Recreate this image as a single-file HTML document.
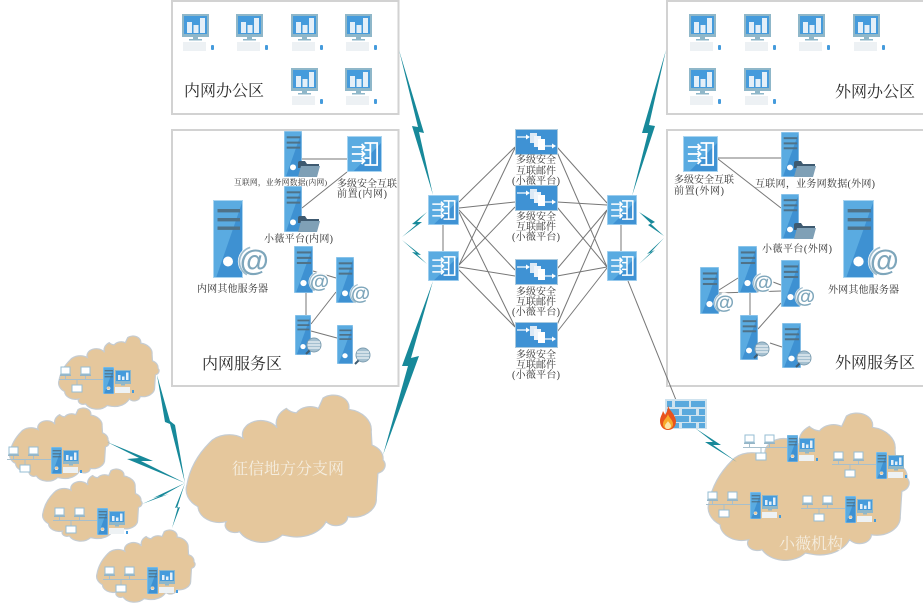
<!DOCTYPE html>
<html><head><meta charset="utf-8"><style>
html,body{margin:0;padding:0;background:#fff;width:923px;height:604px;overflow:hidden}
svg{display:block}
text{font-family:"Liberation Serif","Noto Serif CJK SC",serif;fill:#333}
.t16{font-size:16px;fill:#2a2a2a}
.t10{font-size:10px}
.t8{font-size:7.7px}
.w{font-size:16px;fill:#f5eee0}
.l line,.l polyline{stroke:#777;stroke-width:1;fill:none}
.z polygon{fill:#17899a}
</style></head><body>
<svg width="923" height="604" viewBox="0 0 923 604" xmlns="http://www.w3.org/2000/svg">
<defs>
<symbol id="cloud" viewBox="0 0 100 100" preserveAspectRatio="none" overflow="visible">
<path vector-effect="non-scaling-stroke" fill="#e5c79c" stroke="#c5ccd2" stroke-width="1.200" d="M0,60 A60 60 0 0 1 11.500,32 A12 12 0 0 1 28.600,29 A9.400 9.400 0 0 1 45.900,22 A12 12 0 0 1 50.700,9 A8 8 0 0 0 55.800,12 A8 8 0 0 1 67,9 L69.400,2 A8 8 0 0 1 82.500,9.600 A14 14 0 0 1 94,24.600 L94.400,33.600 A10 10 0 0 1 100,43.600 A6 6 0 0 1 97.400,52.600 L96.600,69.400 A12 12 0 0 1 82,81.700 A6 6 0 0 1 71,85 A16 16 0 0 1 53,95 L48.600,94 A13 13 0 0 1 26.800,91.700 A5 5 0 0 1 20,85 A11 11 0 0 1 5.600,75 A14 14 0 0 1 0,60Z"/>
</symbol>
<symbol id="srv" viewBox="0 0 30 78" preserveAspectRatio="none">
<rect width="30" height="78" fill="#3e91d2"/>
<polygon points="0,0 30,0 3,78 0,78" fill="#5aabe1"/>
<rect x=".5" y=".5" width="29" height="77" fill="none" stroke="#a9d4f0" stroke-width="1"/>
<rect x="4.500" y="9" width="22.500" height="3.400" fill="#4f7288"/>
<rect x="4.500" y="18" width="22.500" height="3.400" fill="#4f7288"/>
<rect x="4.500" y="26.500" width="22.500" height="3.400" fill="#4f7288"/>
<ellipse cx="15" cy="61.500" rx="5" ry="5" fill="#fff"/>
</symbol>
<symbol id="at" viewBox="0 0 40 40" overflow="visible">
<circle cx="20" cy="20" r="19" fill="#fff" opacity=".95"/>
<path d="M12,36 A18 18 0 0 1 16,3" fill="none" stroke="#9dbccd" stroke-width="2"/>
<text x="21" y="31" text-anchor="middle" style="font-family:'Liberation Sans',sans-serif;font-size:36px;font-weight:bold;fill:#7ea6bb">@</text>
</symbol>
<g id="globe">
<circle cx="0" cy="0" r="7" fill="#a5c0d0" stroke="#7f9fb2" stroke-width="1"/>
<path d="M-6,-3 H6 M-6.500,0 H6.500 M-6,3 H6" stroke="#fff" stroke-width="1"/>
<path d="M-4.500,5.500 L-8,9" stroke="#3f5d73" stroke-width="2"/>
</g>
<g id="folder">
<path d="M0,2 Q0,0 2,0 H7 L9,3 H21 V7 H0Z" fill="#3e5a70"/>
<path d="M3,5 H22 L19,16 H0 Z" fill="#7fa0b6"/>
</g>
<symbol id="gw" viewBox="0 0 36 36" preserveAspectRatio="none">
<rect width="36" height="36" fill="#3f92d4"/>
<polygon points="0,0 36,0 36,6 6,36 0,36" fill="#5aabe1"/>
<rect x=".5" y=".5" width="35" height="35" fill="none" stroke="#a9d4f0"/>
<path d="M5,11 H17 M15,8 L18,11 15,14 M5,18 H17 M15,15 L18,18 15,21 M5,25 H17 M15,22 L18,25 15,28" stroke="#fff" stroke-width="1.800" fill="none"/>
<path d="M18,7 H31 V29 H18 M18,14 H24 V22 H18 M24,7 V29" stroke="#fff" stroke-width="1.800" fill="none"/>
</symbol>
<g id="mail">
<rect x=".5" y=".5" width="42" height="25" fill="#3f92d4" stroke="#a9c9de"/>
<path d="M2,8 H12" stroke="#fff" stroke-width="1.200"/><polygon points="11,5.500 15,8 11,10.500" fill="#fff"/>
<rect x="15" y="4" width="7" height="10" fill="#dce9f5"/><rect x="19" y="7" width="7" height="11" fill="#eef4fa"/><rect x="23" y="10" width="7" height="11" fill="#fff"/>
<path d="M30,17 H38" stroke="#fff" stroke-width="1.200"/><polygon points="37,14.500 41,17 37,19.500" fill="#fff"/>
</g>
<g id="pc">
<rect width="27" height="23" fill="#8fb7c9"/>
<rect x="2" y="2" width="23" height="18" fill="#459bdc"/>
<rect x="5" y="8" width="5" height="11" fill="#e4eff8"/><rect x="11.500" y="11" width="5" height="8" fill="#e4eff8"/><rect x="18" y="4" width="5" height="15" fill="#e4eff8"/>
<rect x="11" y="23" width="5" height="2" fill="#8fb7c9"/><rect x="7" y="25" width="13" height="1.500" fill="#8fb7c9"/>
<rect x="1" y="28" width="23" height="9" fill="#edf1f4"/>
<rect x="29" y="31" width="3" height="5" rx="1" fill="#459bdc"/>
</g>
<g id="lap">
<rect x="1" y="0" width="9" height="7" fill="#fff" stroke="#96bdd3"/>
<rect x="0" y="7.500" width="11" height="1.500" fill="#96b5c6"/>
</g>
<g id="net">
<path d="M-1,12.500 H43 M5.500,9 V12.500 M25.500,9 V12.500 M17,12.500 V18" stroke="#a7bfcc" stroke-width="1"/>
<use href="#lap" x="0" y="0"/><use href="#lap" x="20" y="0"/>
<rect x="12" y="18" width="10" height="7" fill="#fff" stroke="#96bdd3"/>
<use href="#srv" x="43" y="0" width="11" height="27"/>
<circle cx="48.500" cy="21" r="1.400" fill="#e5c79c"/>
<rect x="55" y="3" width="16" height="14" fill="#8fb7c9"/><rect x="56" y="4" width="14" height="10" fill="#459bdc"/>
<rect x="58" y="8" width="2.500" height="5" fill="#e4eff8"/><rect x="62" y="9.500" width="2.500" height="3.500" fill="#e4eff8"/><rect x="66" y="5.500" width="2.500" height="7.500" fill="#e4eff8"/>
<rect x="61" y="17" width="4" height="1.500" fill="#8fb7c9"/>
<rect x="55" y="20" width="15" height="6" fill="#eef2f4"/>
<rect x="72" y="23" width="2" height="3" fill="#459bdc"/>
</g>
</defs>

<rect width="923" height="604" fill="#fff"/>

<!-- zones -->
<rect x="172" y="1" width="226.500" height="113" fill="#fff" stroke="#d2d2d2" stroke-width="2"/>
<rect x="172" y="130" width="226.500" height="256" fill="#fff" stroke="#d2d2d2" stroke-width="2"/>
<rect x="667" y="1" width="270" height="113" fill="#fff" stroke="#d2d2d2" stroke-width="2"/>
<rect x="667" y="130" width="270" height="256" fill="#fff" stroke="#d2d2d2" stroke-width="2"/>

<!-- office PCs -->
<use href="#pc" x="182" y="14"/><use href="#pc" x="236" y="14"/><use href="#pc" x="291" y="14"/><use href="#pc" x="345" y="14"/>
<use href="#pc" x="291" y="68"/><use href="#pc" x="345" y="68"/>
<use href="#pc" x="689" y="14"/><use href="#pc" x="744" y="14"/><use href="#pc" x="798" y="14"/><use href="#pc" x="853" y="14"/>
<use href="#pc" x="689" y="68"/><use href="#pc" x="744" y="68"/>

<!-- clouds -->
<use href="#cloud" x="59" y="336" width="99" height="74"/>
<use href="#cloud" x="10" y="408" width="98" height="74"/>
<use href="#cloud" x="43" y="469" width="98" height="73"/>
<use href="#cloud" x="97" y="530" width="97" height="73"/>
<use href="#cloud" x="187" y="395" width="196" height="149"/>
<use href="#cloud" x="709" y="413" width="198" height="149"/>

<!-- connector lines -->
<g class="l">
<line x1="443" y1="225" x2="443" y2="251"/><line x1="621" y1="225" x2="621" y2="251"/>
<line x1="459" y1="202" x2="515" y2="147"/><line x1="459" y1="208" x2="515" y2="202"/><line x1="459" y1="210" x2="515" y2="270"/><line x1="459" y1="212" x2="515" y2="327"/>
<line x1="459" y1="265" x2="515" y2="148"/><line x1="459" y1="265" x2="515" y2="207"/><line x1="459" y1="267" x2="515" y2="276"/><line x1="459" y1="270" x2="515" y2="327"/>
<line x1="557" y1="147" x2="607" y2="203"/><line x1="557" y1="152" x2="607" y2="267"/><line x1="557" y1="202" x2="607" y2="205"/><line x1="557" y1="207" x2="607" y2="267"/>
<line x1="557" y1="269" x2="607" y2="210"/><line x1="557" y1="276" x2="607" y2="267"/><line x1="557" y1="325" x2="607" y2="210"/><line x1="557" y1="332" x2="607" y2="268"/>
<line x1="628" y1="281" x2="676" y2="400"/>
<line x1="302" y1="159" x2="347" y2="159"/><line x1="347" y1="172" x2="302" y2="208"/>
<line x1="313" y1="271" x2="336" y2="278"/><line x1="306" y1="293" x2="306" y2="315"/><line x1="336" y1="292" x2="311" y2="324"/><line x1="311" y1="331" x2="337" y2="338"/>
<line x1="718" y1="158" x2="781" y2="158"/><line x1="718" y1="159" x2="781" y2="208"/>
<line x1="719" y1="290" x2="738" y2="278"/><line x1="719" y1="293" x2="781" y2="291"/><line x1="773" y1="282" x2="781" y2="285"/><line x1="750" y1="293" x2="750" y2="315"/><line x1="758" y1="329" x2="781" y2="303"/><line x1="770" y1="343" x2="782" y2="347"/>
</g>

<!-- lightning -->
<g class="z">
<polygon points="399,50 424,133 419,132 433,195 412,126 418,127"/>
<polygon points="666,50 649,125 655,126 632,196 648,133 642,133"/>
<polygon points="427,212 412,224 416.500,224.500 402,237 422,222 417,222"/>
<polygon points="402,240 421,255 417,254.500 427,264 412,252 416,252.500"/>
<polygon points="639,212 655,222 651,224 664,236 648,225 651,223.500"/>
<polygon points="639,264 655,250 651,252 664,238 647,254 651,252.500"/>
<polygon points="433,281 402,366 408,366 383,455 419,356 411,358"/>
<polygon points="157,375 165,422 170,424 185,483 175,425 170,421"/>
<polygon points="107,442 153,461 141,461 185,483 127,459 139,458"/>
<polygon points="142,504 169,494 162,496 185,483 153,498 160,496"/>
<polygon points="172,528 180,507 177,508 185,483 175,508 178,507"/>
<polygon points="695,428 721,445 713,445 737,462 705,442 713,442"/>
</g>

<!-- left services -->
<use href="#srv" x="284" y="131" width="18" height="46"/><use href="#folder" x="298" y="161"/>
<use href="#srv" x="284" y="186" width="18" height="46"/><use href="#folder" x="298" y="216"/>
<use href="#gw" x="347" y="136" width="35" height="36"/>
<use href="#srv" x="213" y="200" width="30" height="78"/><use href="#at" x="237" y="245" width="33" height="33"/>
<use href="#srv" x="294" y="246" width="19" height="47"/><use href="#at" x="308" y="271" width="22" height="22"/>
<use href="#srv" x="336" y="257" width="18" height="46"/><use href="#at" x="349" y="283" width="22" height="22"/>
<use href="#srv" x="295" y="315" width="16" height="40"/><use href="#globe" x="314" y="345"/>
<use href="#srv" x="337" y="325" width="16" height="39"/><use href="#globe" x="363" y="355"/>

<!-- right services -->
<use href="#gw" x="683" y="136" width="35" height="36"/>
<use href="#srv" x="781" y="132" width="18" height="45"/><use href="#folder" x="794" y="161"/>
<use href="#srv" x="781" y="194" width="18" height="45"/><use href="#folder" x="794" y="223"/>
<use href="#srv" x="843" y="200" width="31" height="78"/><use href="#at" x="867" y="245" width="33" height="33"/>
<use href="#srv" x="700" y="267" width="19" height="47"/><use href="#at" x="713" y="292" width="22" height="22"/>
<use href="#srv" x="738" y="246" width="19" height="47"/><use href="#at" x="752" y="272" width="22" height="22"/>
<use href="#srv" x="781" y="260" width="19" height="47"/><use href="#at" x="794" y="286" width="22" height="22"/>
<use href="#srv" x="740" y="315" width="18" height="45"/><use href="#globe" x="762" y="349"/>
<use href="#srv" x="782" y="323" width="19" height="45"/><use href="#globe" x="804" y="358"/>

<!-- central devices -->
<use href="#gw" x="428" y="195" width="31" height="30"/><use href="#gw" x="428" y="251" width="31" height="30"/>
<use href="#gw" x="607" y="195" width="30" height="30"/><use href="#gw" x="607" y="251" width="30" height="30"/>
<use href="#mail" x="515" y="129"/><use href="#mail" x="515" y="185"/><use href="#mail" x="515" y="259"/><use href="#mail" x="515" y="322"/>

<!-- firewall -->
<rect x="665" y="399" width="42" height="30" fill="#cfe3ef"/>
<g fill="#5aa9dd">
<rect x="667" y="401" width="5" height="6"/><rect x="675" y="401" width="14" height="6"/><rect x="691" y="401" width="14" height="6"/>
<rect x="667" y="409" width="12" height="6"/><rect x="682" y="409" width="14" height="6"/><rect x="699" y="409" width="6" height="6"/>
<rect x="667" y="417" width="5" height="5"/><rect x="675" y="416" width="14" height="6"/><rect x="691" y="416" width="14" height="6"/>
<rect x="667" y="423" width="12" height="5"/><rect x="682" y="423" width="14" height="5"/><rect x="699" y="423" width="6" height="5"/>
</g>
<path d="M668,405 C669,411 675,413 676,421 C676,427 672,430 668,430 C663,430 660,426 660,421 C660,417 662,415 663,411 C664,413 665,414 665,415 C667,412 668,409 668,405Z" fill="#e8531c"/>
<path d="M668,414 C669,418 673,420 673,424 C673,427 671,429 668,429 C665,429 663,427 663,424 C663,420 667,418 668,414Z" fill="#f8a92a"/>
<path d="M668,421 C669,423 671,424 671,426 C671,428 669,429 668,429 C666,429 665,428 665,426 C665,424 667,423 668,421Z" fill="#fbe3a8"/>

<!-- cloud networks -->
<use href="#net" x="60" y="367"/><use href="#net" x="8" y="447"/><use href="#net" x="54" y="508"/><use href="#net" x="104" y="567"/>
<use href="#net" x="744" y="435"/><use href="#net" x="833" y="452"/><use href="#net" x="707" y="492"/><use href="#net" x="802" y="496"/>

<!-- labels -->
<text class="t16" x="184" y="96">内网办公区</text>
<text class="t16" x="202" y="369">内网服务区</text>
<text class="t16" x="835" y="97">外网办公区</text>
<text class="t16" x="835" y="368">外网服务区</text>
<text class="t8" x="234" y="185" textLength="93">互联网，业务网数据(内网)</text>
<text class="t10" x="337" y="187" textLength="60">多级安全互联</text>
<text class="t10" x="337" y="197" textLength="50">前置(内网)</text>
<text class="t10" x="264" y="242" textLength="69">小薇平台(内网)</text>
<text class="t10" x="197" y="292" textLength="71">内网其他服务器</text>
<text class="t10" x="674" y="183" textLength="60">多级安全互联</text>
<text class="t10" x="674" y="194" textLength="50">前置(外网)</text>
<text class="t10" x="755" y="187" textLength="120">互联网，业务网数据(外网)</text>
<text class="t10" x="762" y="252" textLength="70">小薇平台(外网)</text>
<text class="t10" x="828" y="293" textLength="71">外网其他服务器</text>
<text class="w" x="232" y="474" textLength="112">征信地方分支网</text>
<text class="w" x="779" y="549" textLength="64">小薇机构</text>

<g class="t10" text-anchor="middle">
<text x="536" y="163" textLength="40">多级安全</text><text x="536" y="174" textLength="40">互联邮件</text><text x="536" y="184" textLength="48">(小薇平台)</text>
<text x="536" y="220" textLength="40">多级安全</text><text x="536" y="230" textLength="40">互联邮件</text><text x="536" y="240" textLength="48">(小薇平台)</text>
<text x="536" y="295" textLength="40">多级安全</text><text x="536" y="305" textLength="40">互联邮件</text><text x="536" y="315" textLength="48">(小薇平台)</text>
<text x="536" y="358" textLength="40">多级安全</text><text x="536" y="368" textLength="40">互联邮件</text><text x="536" y="378" textLength="48">(小薇平台)</text>
</g>
</svg>
</body></html>
